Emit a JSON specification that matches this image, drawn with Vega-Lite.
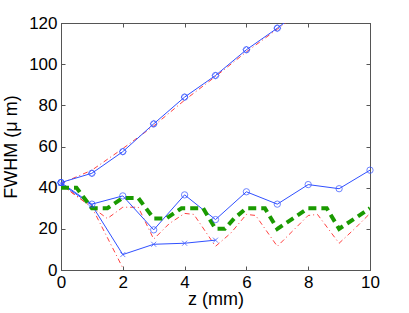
{
  "$schema": "https://vega.github.io/schema/vega-lite/v6.json",
  "width": 309,
  "height": 247,
  "autosize": "none",
  "padding": {"left": 61, "top": 23, "right": 39, "bottom": 43},
  "config": {
    "font": "Liberation Sans",
    "view": {"stroke": "#555", "strokeWidth": 1},
    "axis": {
      "domainColor": "#555",
      "tickColor": "#555",
      "labelColor": "#000",
      "titleColor": "#000",
      "labelFlush": false,
      "labelOverlap": false,
      "grid": false
    }
  },
  "data": {
    "values": [
      {"s": "r_up", "z": 0, "w": 42},
      {"s": "r_up", "z": 1, "w": 48.5},
      {"s": "r_up", "z": 2, "w": 59},
      {"s": "r_up", "z": 3, "w": 70},
      {"s": "r_up", "z": 4, "w": 82.5},
      {"s": "r_up", "z": 5, "w": 94},
      {"s": "r_up", "z": 6, "w": 106},
      {"s": "r_up", "z": 7, "w": 117},
      {"s": "r_up", "z": 8, "w": 128.5},
      {"s": "r_low1", "z": 0, "w": 41.5},
      {"s": "r_low1", "z": 1, "w": 30.5},
      {"s": "r_low1", "z": 2, "w": 1},
      {"s": "r_low2", "z": 0, "w": 41.5},
      {"s": "r_low2", "z": 1, "w": 30.5},
      {"s": "r_low2", "z": 1.5, "w": 25},
      {"s": "r_low2", "z": 2, "w": 30.5},
      {"s": "r_low2", "z": 2.5, "w": 30.5},
      {"s": "r_low2", "z": 3, "w": 15},
      {"s": "r_low2", "z": 3.5, "w": 22.5},
      {"s": "r_low2", "z": 4, "w": 27.5},
      {"s": "r_low2", "z": 4.3, "w": 27},
      {"s": "r_low2", "z": 5, "w": 11.5},
      {"s": "r_low2", "z": 5.5, "w": 18},
      {"s": "r_low2", "z": 6, "w": 27},
      {"s": "r_low2", "z": 6.3, "w": 26.5},
      {"s": "r_low2", "z": 7, "w": 11.5},
      {"s": "r_low2", "z": 7.5, "w": 19},
      {"s": "r_low2", "z": 8, "w": 26.5},
      {"s": "r_low2", "z": 8.3, "w": 27},
      {"s": "r_low2", "z": 9, "w": 13},
      {"s": "r_low2", "z": 9.5, "w": 20},
      {"s": "r_low2", "z": 10, "w": 27.5},
      {"s": "bo_up", "z": 0, "w": 42.5},
      {"s": "bo_up", "z": 1, "w": 47},
      {"s": "bo_up", "z": 2, "w": 57.5},
      {"s": "bo_up", "z": 3, "w": 71},
      {"s": "bo_up", "z": 4, "w": 84},
      {"s": "bo_up", "z": 5, "w": 94.5},
      {"s": "bo_up", "z": 6, "w": 107},
      {"s": "bo_up", "z": 7, "w": 117.5},
      {"s": "bo_up", "z": 8, "w": 129},
      {"s": "bo_low", "z": 0, "w": 42.5},
      {"s": "bo_low", "z": 1, "w": 32},
      {"s": "bo_low", "z": 2, "w": 36},
      {"s": "bo_low", "z": 3, "w": 19.5},
      {"s": "bo_low", "z": 4, "w": 36.5},
      {"s": "bo_low", "z": 5, "w": 24.5},
      {"s": "bo_low", "z": 6, "w": 38},
      {"s": "bo_low", "z": 7, "w": 32},
      {"s": "bo_low", "z": 8, "w": 41.5},
      {"s": "bo_low", "z": 9, "w": 39.5},
      {"s": "bo_low", "z": 10, "w": 48.5},
      {"s": "bx_low", "z": 0, "w": 42},
      {"s": "bx_low", "z": 1, "w": 31.5},
      {"s": "bx_low", "z": 2, "w": 7.5},
      {"s": "bx_low", "z": 3, "w": 12.5},
      {"s": "bx_low", "z": 4, "w": 13},
      {"s": "bx_low", "z": 5, "w": 14.5},
      {"s": "g", "z": 0, "w": 40},
      {"s": "g", "z": 0.5, "w": 40},
      {"s": "g", "z": 1, "w": 30},
      {"s": "g", "z": 1.5, "w": 30},
      {"s": "g", "z": 2, "w": 35},
      {"s": "g", "z": 2.5, "w": 35},
      {"s": "g", "z": 3, "w": 25},
      {"s": "g", "z": 3.4, "w": 25},
      {"s": "g", "z": 3.9, "w": 30},
      {"s": "g", "z": 4.6, "w": 30},
      {"s": "g", "z": 5, "w": 20},
      {"s": "g", "z": 5.3, "w": 20},
      {"s": "g", "z": 5.6, "w": 25},
      {"s": "g", "z": 6, "w": 30},
      {"s": "g", "z": 6.6, "w": 30},
      {"s": "g", "z": 7, "w": 20},
      {"s": "g", "z": 7.5, "w": 25},
      {"s": "g", "z": 8, "w": 30},
      {"s": "g", "z": 8.6, "w": 30},
      {"s": "g", "z": 9, "w": 20},
      {"s": "g", "z": 9.5, "w": 25},
      {"s": "g", "z": 10, "w": 30}
    ]
  },
  "layer": [
    {
      "transform": [{"filter": {"field": "s", "oneOf": ["r_up", "r_low1", "r_low2"]}}],
      "mark": {"type": "line", "clip": true, "color": "#ff4040", "strokeWidth": 1, "strokeDash": [5, 3, 1, 3]},
      "encoding": {
        "x": {"field": "z", "type": "quantitative",
          "scale": {"domain": [0, 10], "nice": false},
          "axis": {"orient": "bottom", "values": [0, 2, 4, 6, 8, 10], "tickSize": -4, "labelPadding": 8,
            "labelFont": "Liberation Sans", "labelFontSize": 17, "title": "z (mm)", "titlePadding": 0,
            "titleFont": "Liberation Sans", "titleFontSize": 18, "titleFontWeight": "normal"}},
        "y": {"field": "w", "type": "quantitative",
          "scale": {"domain": [0, 120], "nice": false},
          "axis": {"orient": "left", "values": [0, 20, 40, 60, 80, 100, 120], "tickSize": -4, "labelPadding": 8,
            "labelFont": "Liberation Sans", "labelFontSize": 17, "title": "FWHM (μ m)", "titlePadding": 8,
            "titleFont": "Liberation Sans", "titleFontSize": 18, "titleFontWeight": "normal"}},
        "detail": {"field": "s"}
      }
    },
    {
      "transform": [{"filter": {"field": "s", "oneOf": ["bo_up", "bo_low", "bx_low"]}}],
      "mark": {"type": "line", "clip": true, "color": "#3050ff", "strokeWidth": 1},
      "encoding": {
        "x": {"field": "z", "type": "quantitative", "axis": null},
        "y": {"field": "w", "type": "quantitative", "axis": null},
        "detail": {"field": "s"}
      }
    },
    {
      "transform": [{"filter": {"field": "s", "oneOf": ["g"]}}],
      "mark": {"type": "line", "clip": true, "color": "#1a9a00", "strokeWidth": 4, "strokeDash": [8, 5]},
      "encoding": {
        "x": {"field": "z", "type": "quantitative", "axis": null},
        "y": {"field": "w", "type": "quantitative", "axis": null}
      }
    },
    {
      "transform": [{"filter": {"field": "s", "oneOf": ["bo_up", "bo_low"]}}, {"filter": "datum.w <= 120"}],
      "mark": {"type": "point", "shape": "circle", "filled": false, "color": "#3050ff", "size": 40, "strokeWidth": 1},
      "encoding": {
        "x": {"field": "z", "type": "quantitative",
          "axis": {"orient": "top", "values": [0, 2, 4, 6, 8, 10], "tickSize": -4, "labels": false, "title": null}},
        "y": {"field": "w", "type": "quantitative",
          "axis": {"orient": "right", "values": [0, 20, 40, 60, 80, 100, 120], "tickSize": -4, "labels": false, "title": null}}
      }
    },
    {
      "transform": [{"filter": {"field": "s", "oneOf": ["bo_up"]}}, {"filter": "datum.w <= 120"}],
      "mark": {"type": "point", "shape": "diamond", "filled": false, "color": "#3050ff", "size": 45, "strokeWidth": 1},
      "encoding": {
        "x": {"field": "z", "type": "quantitative", "axis": null},
        "y": {"field": "w", "type": "quantitative", "axis": null}
      }
    },
    {
      "transform": [{"filter": {"field": "s", "oneOf": ["bx_low"]}}],
      "mark": {"type": "point", "shape": "M-1,-1L1,1M-1,1L1,-1", "filled": false, "color": "#3050ff", "size": 25, "strokeWidth": 1},
      "encoding": {
        "x": {"field": "z", "type": "quantitative", "axis": null},
        "y": {"field": "w", "type": "quantitative", "axis": null}
      }
    }
  ],
  "resolve": {"axis": {"x": "independent", "y": "independent"}}
}
